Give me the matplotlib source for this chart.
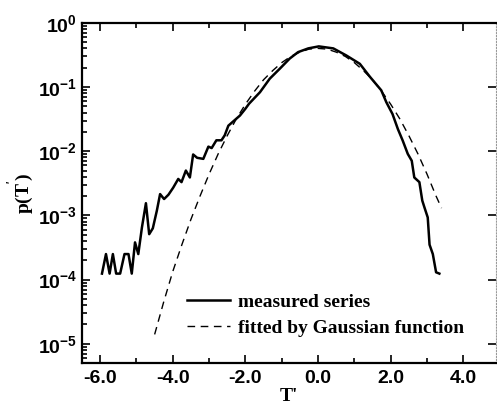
import matplotlib
matplotlib.use("Agg")
import matplotlib.pyplot as plt
from matplotlib.ticker import MultipleLocator, FuncFormatter, LogLocator, FixedLocator
import numpy as np

# measured series
t_meas = [-5.95, -5.84, -5.74, -5.65, -5.56, -5.45, -5.33, -5.22, -5.13, -5.04,
          -4.95, -4.85, -4.74, -4.65, -4.55, -4.44, -4.35, -4.24, -4.12, -3.99,
          -3.85, -3.76, -3.64, -3.53, -3.44, -3.33, -3.16, -3.02, -2.93, -2.80,
          -2.66, -2.57, -2.47, -2.34, -2.15, -2.00, -1.90, -1.60, -1.33, -1.05,
          -0.78, -0.55, -0.27, 0.02, 0.42, 0.78, 1.15, 1.43, 1.74, 1.88,
          2.05, 2.20, 2.33, 2.47, 2.58, 2.65, 2.79, 2.87, 2.93, 3.02,
          3.07, 3.16, 3.25, 3.34]
p_meas = [1.24e-4, 2.5e-4, 1.24e-4, 2.5e-4, 1.24e-4, 1.24e-4, 2.5e-4, 2.5e-4, 1.24e-4, 3.8e-4,
          2.5e-4, 6.5e-4, 1.55e-3, 5.1e-4, 6.3e-4, 1.18e-3, 2.15e-3, 1.8e-3, 2.1e-3, 2.7e-3,
          3.7e-3, 3.3e-3, 5.0e-3, 3.9e-3, 8.9e-3, 7.9e-3, 7.6e-3, 1.18e-2, 1.12e-2, 1.48e-2,
          1.48e-2, 1.77e-2, 2.5e-2, 2.9e-2, 3.6e-2, 4.6e-2, 5.5e-2, 0.083, 0.135, 0.194,
          0.278, 0.35, 0.40, 0.43, 0.40, 0.31, 0.23, 0.144, 0.089, 0.058,
          0.038, 0.022, 0.0147, 0.0091, 0.0071, 0.0039, 0.0033, 0.0017, 0.00133, 9.3e-4,
          3.5e-4, 2.5e-4, 1.3e-4, 1.24e-4]

# fitted Gaussian curve
t_fit = [-4.5, -4.25, -4.0, -3.75, -3.5, -3.25, -3.0, -2.75, -2.5, -2.25, -2.0,
         -1.75, -1.5, -1.25, -1.0, -0.75, -0.5, -0.25, 0.0, 0.25, 0.5, 0.75, 1.0,
         1.25, 1.5, 1.75, 2.0, 2.25, 2.5, 2.75, 3.0, 3.25, 3.4]
p_fit = [1.4e-5, 4.5e-5, 1.34e-4, 3.5e-4, 8.7e-4, 2.0e-3, 4.4e-3, 9.1e-3, 1.75e-2, 3.2e-2, 5.4e-2,
         0.086, 0.13, 0.18, 0.24, 0.30, 0.35, 0.39, 0.40, 0.39, 0.35, 0.30, 0.24,
         0.18, 0.13, 0.086, 0.054, 0.032, 0.0175, 0.0091, 0.0044, 0.0020, 0.0013]

x_ticks = [-6.0, -4.0, -2.0, 0.0, 2.0, 4.0]
labels = ["measured series", "fitted by Gaussian function"]

plt.rcParams['axes.unicode_minus'] = False
plt.rcParams['mathtext.fontset'] = 'custom'
plt.rcParams['mathtext.bf'] = 'Liberation Sans:bold'
plt.rcParams['mathtext.rm'] = 'Liberation Sans:bold'

fig = plt.figure(figsize=(4.97, 4.08), dpi=100)
ax = fig.add_axes([0.165, 0.110, 0.833, 0.834])

ax.plot(t_meas, p_meas, color='black', lw=1.8, label=labels[0])
ax.plot(t_fit, p_fit, color='black', lw=1.0, dashes=(5.5, 4), label=labels[1])

ax.set_yscale('log')
ax.set_xlim(-6.5, 4.9)
ax.set_ylim(5e-6, 1.0)

ax.xaxis.set_major_locator(FixedLocator(x_ticks))
ax.xaxis.set_minor_locator(MultipleLocator(1.0))
ax.xaxis.set_major_formatter(FuncFormatter(lambda v, p: f"{v:.1f}"))
ax.yaxis.set_major_locator(LogLocator(base=10, numticks=10))
ax.yaxis.set_minor_locator(LogLocator(base=10, subs=np.arange(2, 10), numticks=20))
ax.yaxis.set_major_formatter(FuncFormatter(lambda v, p: r"$\mathbf{10^{%d}}$" % int(round(np.log10(v)))))

ax.tick_params(which='both', direction='in', top=True, right=True, width=1.2)
ax.tick_params(which='major', length=6)
ax.tick_params(which='minor', length=3.5)
ax.tick_params(axis='x', which='minor', top=True)
ax.tick_params(axis='y', which='minor', right=False)
ax.tick_params(axis='x', pad=5)

for lab in ax.get_xticklabels():
    lab.set_fontfamily('Liberation Sans')
    lab.set_fontweight('bold')
    lab.set_fontsize(14)
for lab in ax.get_yticklabels():
    lab.set_fontsize(14)

for s in ['left', 'bottom', 'top']:
    ax.spines[s].set_linewidth(1.6)
ax.spines['right'].set_linewidth(0.8)
ax.spines['right'].set_color('#999999')
ax.spines['right'].set_linestyle(':')

ax.set_xlabel("T'", fontfamily='Liberation Serif', fontweight='bold', fontsize=14, labelpad=1)
ax.set_ylabel("p(T$^{'}$)", fontfamily='Liberation Serif', fontweight='bold', fontsize=14, labelpad=1)

leg = ax.legend(loc='lower right', bbox_to_anchor=(0.966, 0.025), frameon=False,
                prop={'family': 'Liberation Serif', 'weight': 'bold', 'size': 14},
                handlelength=2.2, handletextpad=0.45, labelspacing=0.45)

fig.savefig('out.png', dpi=100)
